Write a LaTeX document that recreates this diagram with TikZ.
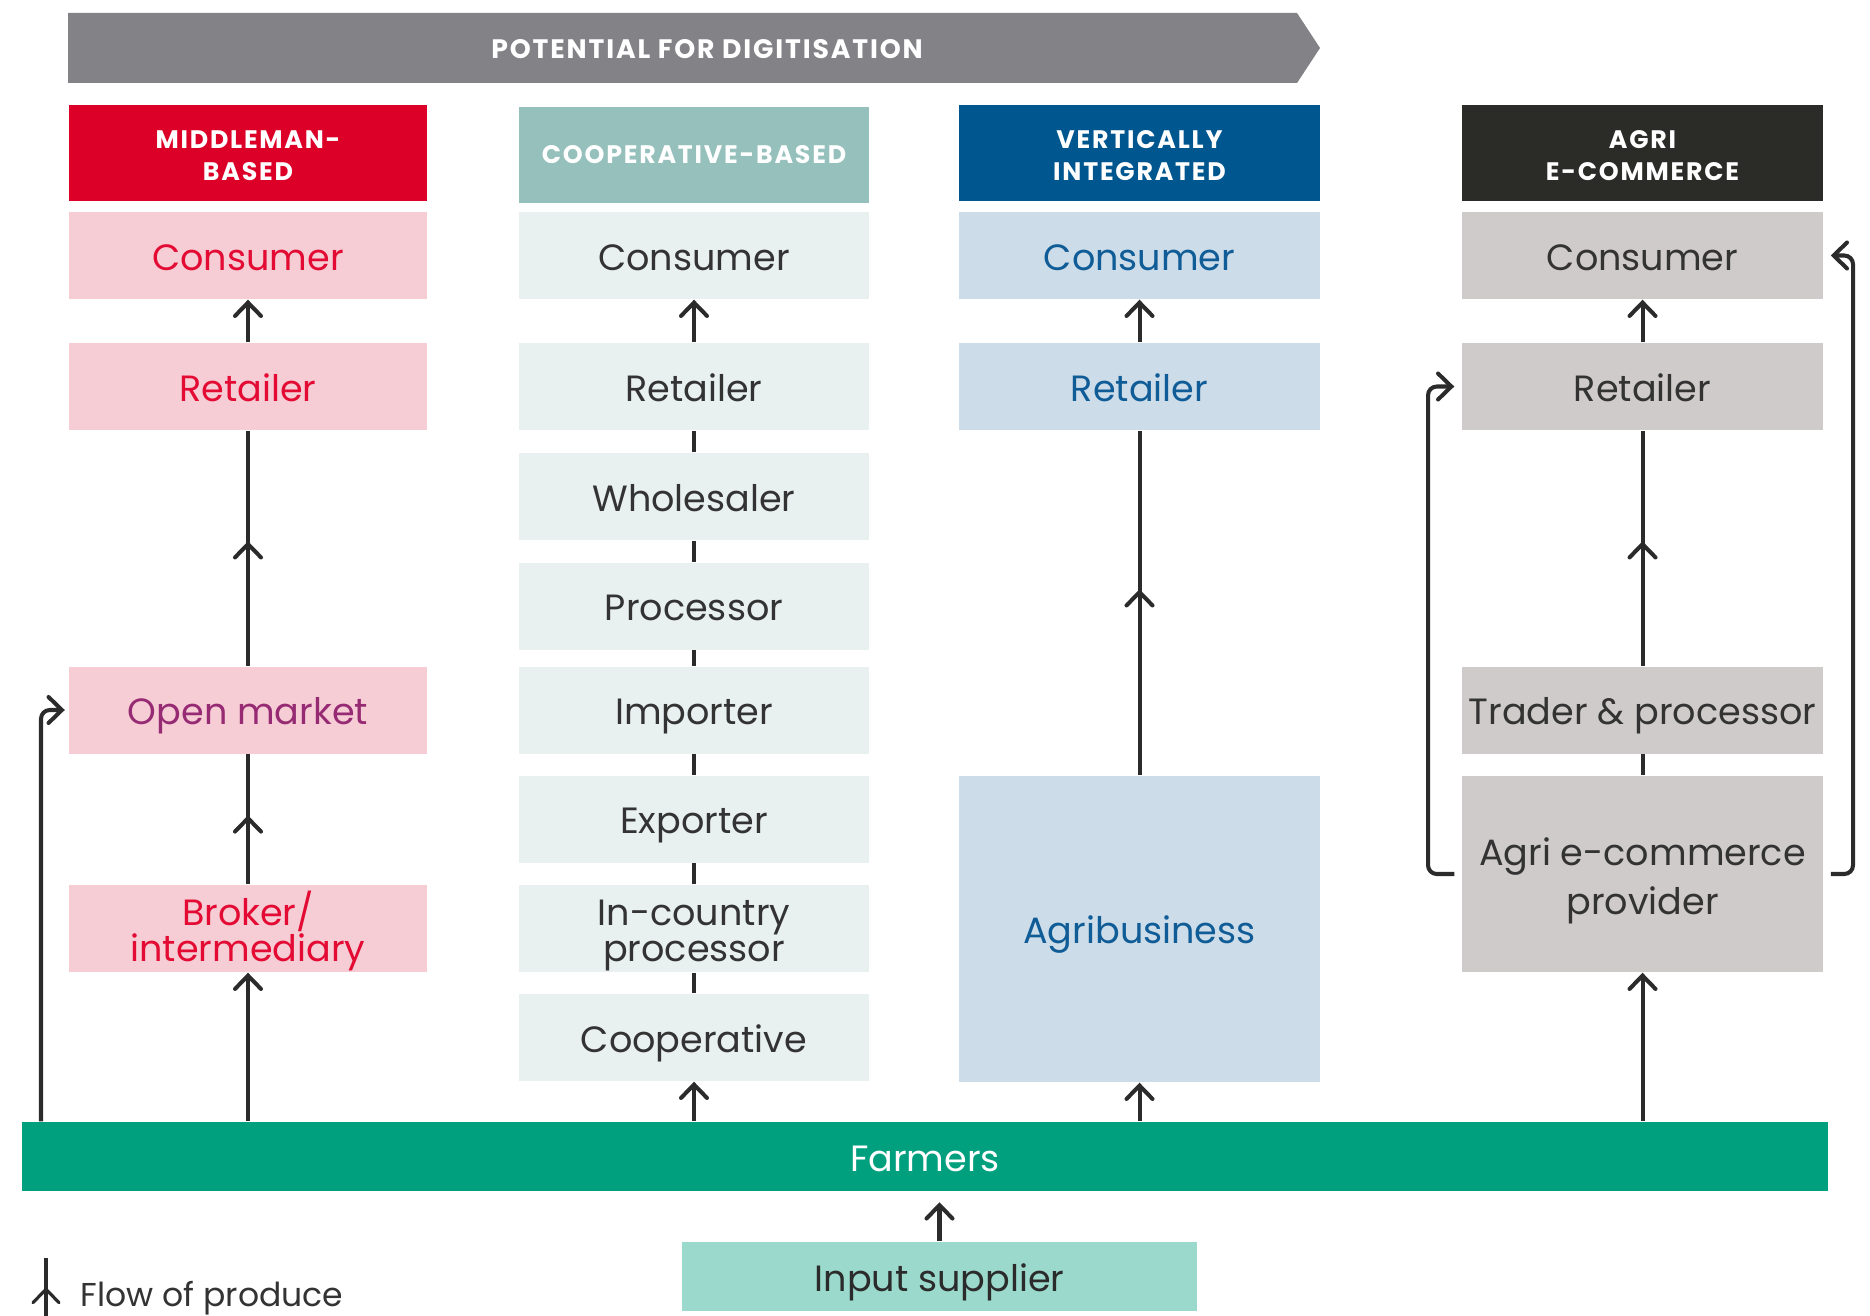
\documentclass[tikz,border=0pt]{standalone}
\usepackage{fontspec}
\setmainfont{Poppins}
\newfontfamily\bookfont{Poppins}
\newfontfamily\headfont[LetterSpace=7]{Poppins}
\usetikzlibrary{arrows.meta,decorations.markings}

\definecolor{bannergray}{HTML}{838387}
\definecolor{mred}{HTML}{DC0029}
\definecolor{mpink}{HTML}{F6CDD5}
\definecolor{mtext}{HTML}{E30B33}
\definecolor{mpurple}{HTML}{962A73}
\definecolor{cteal}{HTML}{95C0BC}
\definecolor{clight}{HTML}{E8F1F0}
\definecolor{vblue}{HTML}{00568F}
\definecolor{vlight}{HTML}{CCDCE8}
\definecolor{vtext}{HTML}{0F5C97}
\definecolor{adark}{HTML}{2B2B27}
\definecolor{alight}{HTML}{CFCBCA}
\definecolor{farm}{HTML}{00A07F}
\definecolor{inputc}{HTML}{9BD9CC}
\definecolor{ink}{HTML}{2B2B2B}
\definecolor{textdark}{HTML}{333333}

\begin{document}
\begin{tikzpicture}[x=0.1mm, y=-0.1mm,
    flow/.style={line width=1.15pt, draw=ink, -{Straight Barb[length=3.8pt,width=7.4pt,line cap=round]}},
    midflow/.style={line width=1.15pt, draw=ink, postaction={decorate},
      decoration={markings, mark=at position #1 with {\arrow{Straight Barb[length=3.8pt,width=7.4pt,line cap=round]}}}},
    midflow/.default=0.53,
    link/.style={line width=1.15pt, draw=ink}]
    \tikzstyle{every node}=[inner sep=0pt, align=center]
    \tikzstyle{box}=[rectangle, minimum height=8.7mm, text height=8.4pt, text depth=0pt,
      font=\bookfont\fontsize{10.4}{10}\selectfont]
    \tikzstyle{twolines}=[text height={}, text depth={}]
    \tikzstyle{head}=[rectangle, minimum height=9.6mm, text=white, font=\headfont\bfseries\fontsize{7.2}{9.3}\selectfont]
    \tikzstyle{mbox}=[box, fill=mpink, text=mtext, minimum width=35.8mm]
    \tikzstyle{cbox}=[box, fill=clight, text=textdark, minimum width=35mm]
    \tikzstyle{vbox}=[box, fill=vlight, text=vtext, minimum width=36.1mm]
    \tikzstyle{abox}=[box, fill=alight, text=textdark, minimum width=36.1mm]
    \useasboundingbox (0,0) rectangle (1870,1316);

    % banner
    \fill[bannergray] (68,13) -- (1297,13) -- (1320,48) -- (1297,83) -- (68,83) -- cycle;
    \node[text=white, font=\headfont\bfseries\fontsize{7.6}{9}\selectfont] (banner) at (707,49) {POTENTIAL FOR DIGITISATION};

    % headers
    \node[head, fill=mred, minimum width=35.8mm] (mhead) at (248,153) {\rule{0pt}{6.6pt}MIDDLEMAN-\\BASED};
    \node[head, fill=cteal, minimum width=35mm] (chead) at (694,155) {COOPERATIVE-BASED};
    \node[head, fill=vblue, minimum width=36.1mm] (vhead) at (1139.5,153) {\rule{0pt}{6.6pt}VERTICALLY\\INTEGRATED};
    \node[head, fill=adark, minimum width=36.1mm] (ahead) at (1642.5,153) {\rule{0pt}{6.6pt}AGRI\\E-COMMERCE};

    % middleman-based
    \node[mbox] (mcons) at (248,255.5) {Consumer};
    \node[mbox] (mret) at (248,386.5) {Retailer};
    \node[mbox, text=mpurple] (mopen) at (248,710) {Open market};
    \node[mbox, twolines] (mbrok) at (248,928.5) {\rule{0pt}{11.2pt}Broker/\\intermediary};

    % cooperative-based
    \node[cbox] (ccons) at (694,255.5) {Consumer};
    \node[cbox] (cret) at (694,386.5) {Retailer};
    \node[cbox] (cwhole) at (694,496.5) {Wholesaler};
    \node[cbox] (cproc) at (694,606) {Processor};
    \node[cbox] (cimp) at (694,710) {Importer};
    \node[cbox] (cexp) at (694,819) {Exporter};
    \node[cbox, twolines] (cinc) at (694,928.5) {\rule{0pt}{11.2pt}In-country\\processor};
    \node[cbox] (ccoop) at (694,1037.5) {Cooperative};

    % vertically integrated
    \node[vbox] (vcons) at (1139.5,255.5) {Consumer};
    \node[vbox] (vret) at (1139.5,386.5) {Retailer};
    \node[vbox, minimum height=30.6mm] (vagri) at (1139.5,929) {Agribusiness};

    % agri e-commerce
    \node[abox] (acons) at (1642.5,255.5) {Consumer};
    \node[abox] (aret) at (1642.5,386.5) {Retailer};
    \node[abox] (atrad) at (1642.5,710) {Trader \& processor};
    \node[abox, twolines, minimum height=19.6mm, font=\bookfont\fontsize{10.4}{14}\selectfont] (aprov) at (1642.5,874) {\rule{0pt}{11.8pt}Agri e-commerce\\provider};

    % farmers and input supplier
    \node[box, fill=farm, text=white, minimum width=180.6mm, minimum height=6.9mm] (farmers) at (925,1156.5) {Farmers};
    \node[box, fill=inputc, text=ink, minimum width=51.5mm, minimum height=6.9mm] (input) at (939.5,1276.5) {Input supplier};

    \coordinate (mloop) at (41,0);
    \coordinate (aloopl) at (1428,0);
    \coordinate (aloopr) at (1853,0);

    % flows, middleman-based
    \draw[flow] (mbrok.south |- farmers.north) -- (mbrok.south);
    \draw[midflow] (mbrok.north) -- (mopen.south);
    \draw[midflow] (mopen.north) -- (mret.south);
    \draw[flow] (mret.north) -- (mcons.south);
    \draw[flow, rounded corners=2.5pt, shorten >=1pt] (farmers.north -| mloop) |- (mopen.west);

    % flows, cooperative-based
    \draw[flow] (ccoop.south |- farmers.north) -- (ccoop.south);
    \draw[link] (ccoop.north) -- (cinc.south);
    \draw[link] (cinc.north) -- (cexp.south);
    \draw[link] (cexp.north) -- (cimp.south);
    \draw[link] (cimp.north) -- (cproc.south);
    \draw[link] (cproc.north) -- (cwhole.south);
    \draw[link] (cwhole.north) -- (cret.south);
    \draw[flow] (cret.north) -- (ccons.south);

    % flows, vertically integrated
    \draw[flow] (vagri.south |- farmers.north) -- (vagri.south);
    \draw[midflow=0.54] (vagri.north) -- (vret.south);
    \draw[flow] (vret.north) -- (vcons.south);

    % flows, agri e-commerce
    \draw[flow] (aprov.south |- farmers.north) -- (aprov.south);
    \draw[link] (aprov.north) -- (atrad.south);
    \draw[midflow] (atrad.north) -- (aret.south);
    \draw[flow] (aret.north) -- (acons.south);
    \draw[flow, rounded corners=2.5pt, shorten <=2pt, shorten >=2pt] (aprov.west) -| (aret.west -| aloopl) -- (aret.west);
    \draw[flow, rounded corners=2.5pt, shorten <=2pt, shorten >=2pt] (aprov.east) -| (acons.east -| aloopr) -- (acons.east);

    % input supplier
    \draw[flow, shorten >=3pt] (input.north) -- (input.north |- farmers.south);

    % legend
    \coordinate (lgbot) at (46,1316);
    \coordinate (lgtop) at (46,1258);
    \draw[midflow=0.5, line width=0.9pt] (lgbot) -- (lgtop);
    \node[anchor=base west, text=textdark, font=\bookfont\fontsize{9.4}{12}\selectfont] (legend) at (80,1306) {Flow of produce};
\end{tikzpicture}
\end{document}
